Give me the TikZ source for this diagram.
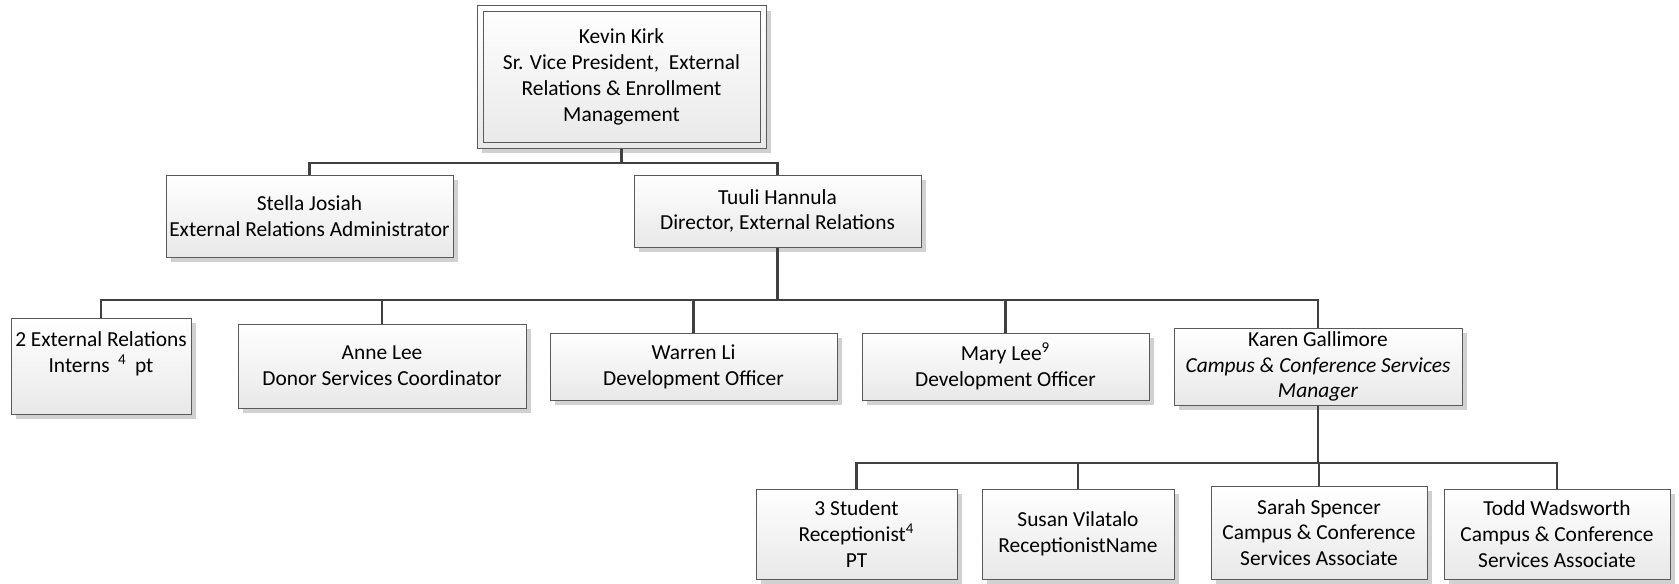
\documentclass[tikz,border=0pt]{standalone}
\usepackage{fontspec}
\setmainfont{Carlito}
\usetikzlibrary{shadows}
\definecolor{boxline}{HTML}{5A5A5A}
\definecolor{connline}{HTML}{404040}
\begin{document}
\begin{tikzpicture}[x=0.5pt,y=-0.5pt,
  txt/.style={align=center, inner sep=0pt, font=\fontsize{10.7pt}{12.9pt}\selectfont},
  box/.style={txt, draw=boxline, line width=0.5pt, top color=white, bottom color=black!9,
    drop shadow={shadow xshift=2.5pt, shadow yshift=-2.5pt, fill=black!18, opacity=1}},
  conn/.style={draw=connline, line width=1.4pt}]
\useasboundingbox (0,0) rectangle (1679,583);
% top
\node[box, minimum width=144.5pt, minimum height=71pt] (top) at (621.5,77) {};
\node[txt, draw=boxline, line width=0.5pt, minimum width=138.5pt, minimum height=65pt] (topin) at (621.5,77)
  {Kevin Kirk\\Sr. Vice President,\ \ External\\Relations \& Enrollment\\Management};
% level 2
\node[box, minimum width=143.5pt, minimum height=41pt] (stella) at (309.5,216) {Stella Josiah\\External Relations Administrator};
\node[box, minimum width=143.5pt, minimum height=36pt] (tuuli) at (777.5,211) {Tuuli Hannula\\Director, External Relations};
% level 3
\node[box, minimum width=90pt, minimum height=48pt] (interns) at (101,366) {2 External Relations\\Interns \,\textsuperscript{4}\, pt\\[-2.5pt]\strut};
\node[box, minimum width=144pt, minimum height=42pt] (anne) at (382,366) {Anne Lee\\Donor Services Coordinator};
\node[box, minimum width=143.5pt, minimum height=33.5pt] (warren) at (693.5,366.5) {Warren Li\\Development Officer};
\node[box, minimum width=143.5pt, minimum height=33.5pt] (mary) at (1005.5,366.5) {Mary Lee\textsuperscript{9}\\Development Officer};
\node[box, minimum width=144pt, minimum height=38.5pt] (karen) at (1318,366.5) {Karen Gallimore\\\textit{Campus \& Conference Services}\\\textit{Manager}};
% level 4
\node[box, minimum width=100.5pt, minimum height=45pt] (student) at (856.5,534) {3 Student\\Receptionist\textsuperscript{4}\\PT};
\node[box, minimum width=96pt, minimum height=45pt] (susan) at (1078,534) {Susan Vilatalo\\ReceptionistName};
\node[box, minimum width=108pt, minimum height=46.5pt] (sarah) at (1319,532.5) {Sarah Spencer\\Campus \& Conference\\Services Associate};
\node[box, minimum width=113pt, minimum height=45pt] (todd) at (1557,534) {Todd Wadsworth\\Campus \& Conference\\Services Associate};
% bus coordinates
\coordinate (b1) at (0,163);
\coordinate (b2) at (0,300);
\coordinate (b3) at (0,463);
% connectors
\draw[conn] (top.south) -- (top.south |- b1) -| (stella.north);
\draw[conn] (top.south |- b1) -| (tuuli.north);
\foreach \c in {interns,anne,warren,mary,karen}{
  \draw[conn] (tuuli.south) -- (tuuli.south |- b2) -| (\c.north);
}
\foreach \c in {student,susan,sarah,todd}{
  \draw[conn] (karen.south) -- (karen.south |- b3) -| (\c.north);
}
\end{tikzpicture}
\end{document}
